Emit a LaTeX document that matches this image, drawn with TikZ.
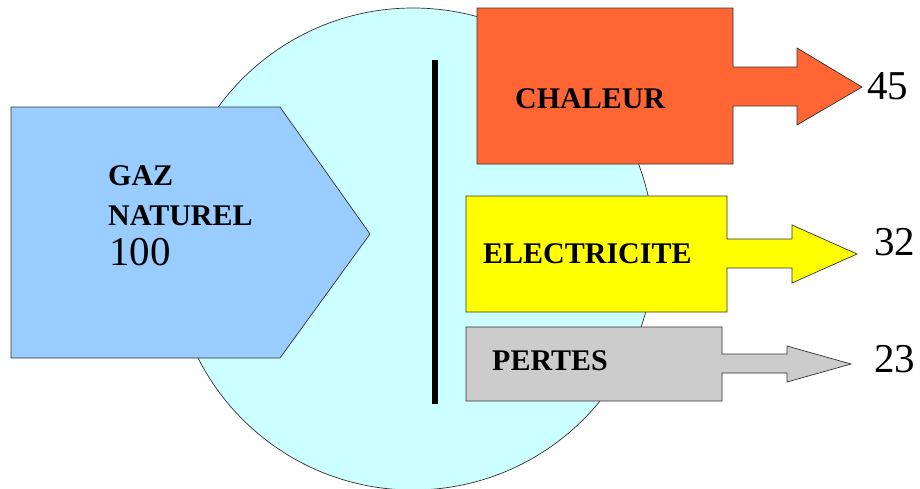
\documentclass[tikz,border=0pt]{standalone}
\usepackage{fontspec}
\setmainfont{Liberation Serif}
\definecolor{gazbleu}{HTML}{99CCFF}
\definecolor{bulle}{HTML}{CCFFFF}
\definecolor{chaleurrouge}{HTML}{FF6633}
\definecolor{elecjaune}{HTML}{FFFF00}
\definecolor{pertesgris}{HTML}{CCCCCC}

\begin{document}
\begin{tikzpicture}[x=1pt,y=-1pt]
\tikzstyle{every node}+=[inner sep=0pt]
\tikzstyle{contour}=[draw=black!80,line width=0.7pt]
\tikzstyle{titre}=[anchor=base west,font=\fontsize{30}{36}\selectfont\bfseries]
\tikzstyle{valeur}=[anchor=base west,font=\fontsize{41}{44}\selectfont]
\useasboundingbox (0,0) rectangle (920,488);
% transformateur
\filldraw [contour,fill=bulle] (413,249) circle (241pt);
% entree
\filldraw [contour,fill=gazbleu] (11,107) -- (280,107) -- (370,234) -- (280,358) -- (11,358) -- cycle;
\fill [black] (432,60) rectangle (438,404);
% sorties
\filldraw [contour,fill=chaleurrouge] (477,8) -- (733,8) -- (733,67) -- (797,67) -- (797,48) -- (862,87) -- (797,125) -- (797,106) -- (733,106) -- (733,164) -- (477,164) -- cycle;
\filldraw [contour,fill=elecjaune] (466,196) -- (727,196) -- (727,239) -- (792,239) -- (792,225) -- (857,254) -- (792,283) -- (792,268) -- (727,268) -- (727,312) -- (466,312) -- cycle;
\filldraw [contour,fill=pertesgris] (466,327) -- (722,327) -- (722,354) -- (787,354) -- (787,346) -- (851,364) -- (787,382) -- (787,373) -- (722,373) -- (722,401) -- (466,401) -- cycle;
% textes
\node [titre] (gaz) at (108,185) {GAZ};
\node [titre] (naturel) at (108,225) {NATUREL};
\node [valeur] (cent) at (109,265) {100};
\node [titre] (chaleur) at (515,108) {CHALEUR};
\node [titre] (elec) at (483,263) {ELECTRICITE};
\node [titre] (pertes) at (492,370) {PERTES};
\node [valeur] (v45) at (867,99) {45};
\node [valeur] (v32) at (874,255) {32};
\node [valeur] (v23) at (874,372) {23};
\end{tikzpicture}
\end{document}
